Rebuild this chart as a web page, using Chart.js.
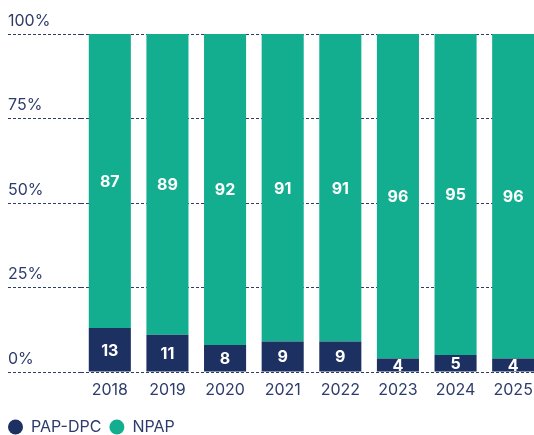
<!DOCTYPE html>
<html lang="en">
<head>
    <meta charset="UTF-8">
    <title>PAP-DPC / NPAP</title>
    <style>
        body, html {
            margin: 0;
            padding: 0;
            background: #fff;
            font-family: Inter, sans-serif;
            width: 534px;
            height: 435px;
            overflow: hidden;
        }
        #chart {
            width: 542px; /* the last bar is cut by the page edge */
            height: 435px;
        }
    </style>
</head>
<body>
<div id="chart">
    <canvas id="myChart"></canvas>
</div>

<script src="https://cdn.jsdelivr.net/npm/chart.js"></script>
<script type="text/javascript">
    var years = ['2018', '2019', '2020', '2021', '2022', '2023', '2024', '2025'];
    var papDpc = [13, 11, 8, 9, 9, 4, 5, 4];
    var npap = [87, 89, 92, 91, 91, 96, 95, 96];
    var yTicks = [0, 25, 50, 75, 100];

    var navy = '#1c3062';
    var green = '#13ae90';
    var textColor = '#2e3c6c';

    // numbers inside the bar segments
    var segmentLabels = {
        id: 'segmentLabels',
        afterDatasetsDraw: function(chart) {
            var ctx = chart.ctx;
            ctx.save();
            ctx.fillStyle = '#fff';
            ctx.font = 'bold 16px Inter, sans-serif';
            ctx.textAlign = 'center';
            ctx.textBaseline = 'middle';
            chart.data.datasets.forEach(function(ds, i) {
                chart.getDatasetMeta(i).data.forEach(function(bar, j) {
                    var mid = (bar.y + bar.base) / 2;
                    ctx.fillText(ds.data[j], bar.x, mid + 1);
                });
            });
            ctx.restore();
        }
    };

    var ctx = document.getElementById('myChart').getContext('2d');
    window.myChart = new Chart(ctx, {
        type: 'bar',
        data: {
            labels: years,
            datasets: [
                { label: 'PAP-DPC', data: papDpc, backgroundColor: navy },
                { label: 'NPAP', data: npap, backgroundColor: green }
            ]
        },
        options: {
            responsive: true,
            maintainAspectRatio: false,
            animation: false,
            layout: { padding: { left: 0, right: 0, top: 34, bottom: -10 } },
            datasets: { bar: { categoryPercentage: 1, barPercentage: 0.73 } },
            plugins: {
                tooltip: { enabled: false },
                legend: {
                    position: 'bottom',
                    align: 'start',
                    labels: {
                        usePointStyle: true,
                        pointStyle: 'circle',
                        boxHeight: 10.6,
                        pointStyleWidth: 15,
                        padding: 8,
                        color: textColor,
                        font: { family: 'Inter, sans-serif', size: 16 }
                    }
                }
            },
            scales: {
                x: {
                    stacked: true,
                    grid: { display: false, drawTicks: false },
                    border: { display: false },
                    ticks: {
                        padding: 9,
                        color: textColor,
                        font: { family: 'Inter, sans-serif', size: 16 }
                    },
                    afterFit: function(s) { s.height = 39; }
                },
                y: {
                    stacked: true,
                    min: 0,
                    max: 100,
                    afterBuildTicks: function(s) {
                        s.ticks = yTicks.map(function(v) { return { value: v }; });
                    },
                    afterFit: function(s) { s.width = 81; },
                    grid: {
                        color: textColor,
                        lineWidth: 1,
                        drawTicks: true,
                        tickLength: 73,
                        tickColor: textColor,
                        tickBorderDash: [3, 2]
                    },
                    border: { display: false, dash: [3, 2] },
                    ticks: {
                        mirror: true,
                        crossAlign: 'near',
                        padding: -73,
                        labelOffset: -13,
                        color: textColor,
                        font: { family: 'Inter, sans-serif', size: 16 },
                        callback: function(v) { return v + '%'; }
                    }
                }
            }
        },
        plugins: [segmentLabels]
    });
</script>
</body>
</html>
